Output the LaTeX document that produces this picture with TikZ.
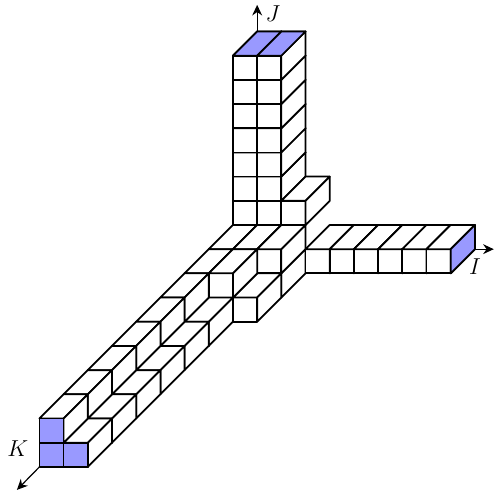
\documentclass[tikz,border=0pt]{standalone}
\usepackage{tikz}
\usetikzlibrary{arrows.meta}
\definecolor{VoxBlue}{HTML}{9999FF}
\tikzset{
  face/.style={draw=black,line width=1.3pt,line join=round,fill=white},
  facemark/.style={face,fill=VoxBlue},
  axis/.style={-{Stealth[length=2.8mm,width=2.6mm]},black,line width=0.9pt},
  axislabel/.style={text=black,inner sep=0pt,font=\fontsize{17}{20}\selectfont},
}
\newcommand{\voxel}[3]{%
  \begin{scope}[shift={(#1,#2,#3)}]
    \path[face] (0,0,1) -- (1,0,1) -- (1,1,1) -- (0,1,1) -- cycle;
    \path[face] (0,1,1) -- (1,1,1) -- (1,1,0) -- (0,1,0) -- cycle;
    \path[face] (1,0,1) -- (1,0,0) -- (1,1,0) -- (1,1,1) -- cycle;
  \end{scope}%
}
\begin{document}
\begin{tikzpicture}[x=.637cm,y=.637cm,z={(-.637cm,-.637cm)}]
    \useasboundingbox (-10.63,-11.12) rectangle (9.78,9.30);

    % column J
    \foreach \j in {1,...,7} {
      \foreach \i in {0,1} {\voxel{\i}{\j}{0}}
    }
    \voxel{2}{1}{0}
    % centre and arm I
    \voxel{2}{-1}{1}
    \foreach \i in {0,1,2,4,5,6,7,8,9} {\voxel{\i}{0}{1}}
    \voxel{2}{-1}{2}
    \foreach \i in {0,1} {\voxel{\i}{0}{2}}
    % arm K
    \foreach \k in {3,...,8} {
      \voxel{1}{-1}{\k}
      \voxel{0}{0}{\k}
    }

    % marked end faces
    \path[facemark] (0,8,1) -- (1,8,1) -- (1,8,0) -- (0,8,0) -- cycle;
    \path[facemark] (1,8,1) -- (2,8,1) -- (2,8,0) -- (1,8,0) -- cycle;
    \path[facemark] (10,0,2) -- (10,0,1) -- (10,1,1) -- (10,1,2) -- cycle;
    \path[facemark] (0,0,9) -- (1,0,9) -- (1,1,9) -- (0,1,9) -- cycle;
    \path[facemark] (0,-1,9) -- (1,-1,9) -- (1,0,9) -- (0,0,9) -- cycle;
    \path[facemark] (1,-1,9) -- (2,-1,9) -- (2,0,9) -- (1,0,9) -- cycle;

    \coordinate (jbase) at (0,8,0);
    \coordinate (jtip) at (0,9.1);
    \coordinate (ibase) at (10,0,1);
    \coordinate (itip) at (9.78,-1);
    \coordinate (kbase) at (0,-1,9);
    \coordinate (ktip) at (-9.93,-10.95);
    \draw[axis] (jbase) -- (jtip);
    \draw[axis] (ibase) -- (itip);
    \draw[axis] (kbase) -- (ktip);

    \node[axislabel] (jlabel) at (0.65,8.72) {$J$};
    \node[axislabel] (ilabel) at (9.0,-1.72) {$I$};
    \node[axislabel] (klabel) at (-9.89,-9.26) {$K$};
\end{tikzpicture}
\end{document}
